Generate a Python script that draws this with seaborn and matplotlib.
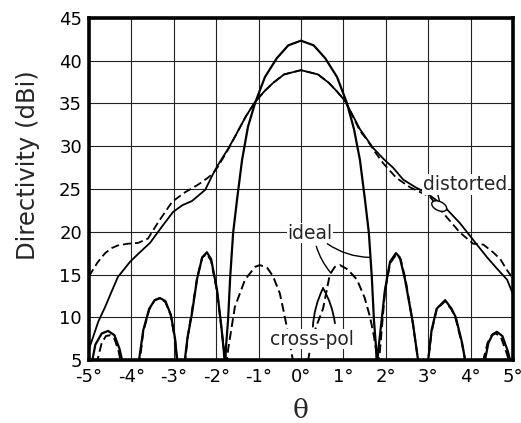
import numpy as np
import pandas as pd
import matplotlib
matplotlib.use("Agg")
import matplotlib.pyplot as plt
import matplotlib.transforms as mtransforms
from matplotlib.patches import Ellipse
import seaborn as sns

# ideal co-pol: narrow main beam + sidelobes (nulls dip below the 5 dBi floor)
ideal_theta = [-5.0, -4.92, -4.85, -4.7, -4.55, -4.4, -4.28, -4.22, -4.02,
               -3.82, -3.72, -3.58, -3.45, -3.33, -3.2, -3.07, -2.97, -2.92, -2.83,
               -2.74, -2.68, -2.57, -2.45, -2.33, -2.22, -2.12, -1.98, -1.88, -1.82, -1.79,
               -1.77, -1.72, -1.67, -1.6, -1.51, -1.39, -1.25, -1.08, -0.85, -0.57, -0.3,
               0.0, 0.3, 0.57, 0.85, 1.08, 1.25, 1.39, 1.51, 1.6, 1.67, 1.72, 1.77,
               1.79, 1.82, 1.98, 2.1, 2.24, 2.33, 2.45, 2.64, 2.76, 2.88,
               3.0, 3.08, 3.2, 3.4, 3.55, 3.65, 3.8, 3.87, 4.1,
               4.34, 4.42, 4.52, 4.62, 4.75, 4.88, 4.93, 5.0]
ideal_db = [0.0, 5.0, 6.8, 8.1, 8.4, 7.9, 6.3, 5.0, 0.0,
            5.0, 8.5, 11.0, 12.0, 12.25, 11.9, 10.3, 7.5, 5.0, 0.0,
            5.0, 7.5, 10.5, 14.5, 17.0, 17.6, 16.8, 13.2, 9.0, 6.0, 4.0,
            6.5, 9.7, 14.7, 19.9, 23.7, 28.4, 32.3, 35.1, 38.1, 40.3, 41.8,
            42.35, 41.8, 40.3, 38.1, 35.1, 32.0, 28.4, 23.7, 19.9, 14.7, 9.7, 6.5,
            4.0, 6.0, 13.2, 16.5, 17.5, 17.0, 14.5, 9.3, 5.0, 0.0,
            5.0, 8.5, 11.0, 12.0, 11.0, 10.0, 7.0, 5.0, 0.0,
            5.0, 7.0, 8.0, 8.3, 7.8, 6.0, 5.0, 0.0]

# dashed pattern: same sidelobes, split lobes around boresight
split_theta = [-5.0, -4.8, -4.7, -4.6, -4.5, -4.4, -4.3, -4.26, -4.02,
               -3.8, -3.72, -3.58, -3.45, -3.33, -3.2, -3.07, -2.97, -2.93, -2.83,
               -2.73, -2.67, -2.57, -2.45, -2.33, -2.22, -2.12, -1.98, -1.88, -1.8, -1.77,
               -1.72, -1.56, -1.32, -1.08, -0.97, -0.8, -0.66, -0.5, -0.4, -0.3, -0.2, 0.0,
               0.17, 0.21, 0.35, 0.52, 0.68, 0.8, 0.92, 1.1, 1.32, 1.5, 1.63, 1.72, 1.79, 1.81,
               1.86, 1.98, 2.1, 2.24, 2.35, 2.47, 2.64, 2.76, 2.88,
               3.0, 3.08, 3.2, 3.4, 3.55, 3.65, 3.8, 3.87, 4.1,
               4.3, 4.4, 4.5, 4.6, 4.72, 4.85, 4.9, 5.0]
split_db = [0.0, 5.0, 7.0, 7.8, 7.9, 7.5, 6.0, 5.0, 0.0,
            5.0, 8.3, 10.9, 12.0, 12.2, 11.8, 10.2, 7.3, 5.0, 0.0,
            5.0, 7.8, 10.8, 14.6, 17.0, 17.4, 16.6, 13.0, 8.8, 5.5, 4.0,
            6.2, 11.2, 14.4, 15.9, 16.1, 15.8, 14.8, 12.8, 10.5, 8.0, 5.2, 0.0,
            5.0, 6.2, 8.8, 11.0, 15.0, 15.9, 16.1, 15.6, 14.4, 12.3, 10.0, 7.8, 5.5, 4.0,
            6.0, 13.0, 16.3, 17.3, 16.8, 14.3, 9.2, 5.0, 0.0,
            5.0, 8.3, 10.9, 11.9, 10.9, 9.8, 6.8, 5.0, 0.0,
            5.0, 7.0, 7.9, 8.1, 7.6, 5.8, 5.0, 0.0]

# distorted co-pol, broad beam (solid and dashed traces)
wide_theta = [-5.0, -4.93, -4.78, -4.62, -4.45, -4.32, -4.03, -3.8, -3.56, -3.28,
              -3.02, -2.8, -2.57, -2.26, -2.08, -1.96, -1.72, -1.56, -1.3, -1.08,
              -0.85, -0.66, -0.4, 0.0, 0.4, 0.66, 0.85, 1.04, 1.2, 1.39,
              1.7, 1.95, 2.17, 2.41, 2.7, 2.97, 3.35, 3.75, 4.1, 4.39, 4.62, 4.86, 5.0]
wide_solid_db = [6.3, 7.3, 9.5, 11.2, 13.2, 14.7, 16.5, 17.6, 18.7, 20.6,
                 22.3, 23.1, 23.6, 24.9, 26.7, 27.8, 29.7, 31.1, 33.5, 35.2,
                 36.5, 37.4, 38.4, 38.9, 38.4, 37.4, 36.4, 35.3, 33.8, 32.0,
                 29.8, 28.5, 27.5, 26.1, 25.2, 24.5, 23.1, 21.0, 18.8, 17.0, 15.7, 14.4, 12.7]

wide_dash_theta = [-5.0, -4.95, -4.8, -4.62, -4.46, -4.32, -4.08, -3.84, -3.61, -3.37,
                   -3.04, -2.74, -2.43, -2.2, -2.08, -1.96, -1.72, -1.56, -1.3, -1.08,
                   -0.85, -0.66, -0.4, 0.0, 0.4, 0.66, 0.85, 1.04, 1.2, 1.39,
                   1.55, 1.75, 1.94, 2.25, 2.57, 3.04, 3.35, 3.75, 4.06, 4.3, 4.53, 4.7, 4.86, 5.0]
wide_dash_db = [14.8, 15.2, 16.4, 17.5, 18.1, 18.4, 18.6, 18.7, 19.2, 21.1,
                23.5, 24.6, 25.5, 26.3, 26.8, 27.6, 29.6, 31.1, 33.5, 35.2,
                36.5, 37.4, 38.4, 38.9, 38.4, 37.4, 36.4, 35.3, 33.7, 31.8,
                30.8, 29.3, 28.0, 26.3, 25.2, 24.1, 22.2, 19.9, 18.6, 18.5, 17.6, 16.8, 15.5, 14.5]

x_ticks = list(range(-5, 6))
x_labels = [f"{t}°" for t in x_ticks]
y_ticks = list(range(5, 50, 5))

sns.set_style("white")
plt.rcParams['font.family'] = ['DejaVu Sans']

fig = plt.figure(figsize=(5.21, 4.23), dpi=100)
ax = fig.add_axes([89 / 521, 1 - 360 / 423, 424 / 521, 342 / 423])

dash = (0, (4.5, 2.2))
sns.lineplot(x=wide_theta, y=wide_solid_db, ax=ax, color='black', lw=1.3,
             sort=False, estimator=None)
sns.lineplot(x=wide_dash_theta, y=wide_dash_db, ax=ax, color='black', lw=1.3,
             linestyle=dash, sort=False, estimator=None)
sns.lineplot(x=ideal_theta, y=ideal_db, ax=ax, color='black', lw=1.6,
             sort=False, estimator=None)
sns.lineplot(x=split_theta, y=split_db, ax=ax, color='black', lw=1.4,
             linestyle=dash, sort=False, estimator=None)

ax.set_xlim(-5, 5)
ax.set_ylim(5, 45)
ax.set_xticks(x_ticks)
ax.set_xticklabels(x_labels)
ax.set_yticks(y_ticks)
ax.grid(True, color='#222222', lw=0.8)
ax.set_axisbelow(True)
ax.tick_params(axis='y', length=0, labelsize=13, pad=5, colors='black')
ax.tick_params(axis='x', length=0, labelsize=13, pad=6, colors='black')
for s in ax.spines.values():
    s.set_linewidth(2.6)
    s.set_color('black')

ax.set_ylabel('Directivity (dBi)', fontsize=17.5)
ax.yaxis.set_label_coords(-0.144, 0.57)
ax.yaxis.label.set_va('center')
ax.set_xlabel('θ', fontsize=19, family='DejaVu Serif')
ax.xaxis.set_label_coords(0.5, -0.149)
ax.xaxis.label.set_va('center')

box = dict(facecolor='white', edgecolor='none', pad=0.5)
ax.text(3.87, 25.5, 'distorted', ha='center', va='center', fontsize=13.5, bbox=box, zorder=5)
ax.text(0.21, 19.85, 'ideal', ha='center', va='center', fontsize=13.5, bbox=box, zorder=5)
ax.text(0.26, 7.45, 'cross-pol', ha='center', va='center', fontsize=13.5, bbox=box, zorder=5)

lead = dict(arrowstyle='-', color='black', lw=1.0, shrinkA=0, shrinkB=0)
ax.annotate('', xy=(1.62, 17.0), xytext=(0.62, 18.6),
            arrowprops=dict(lead, connectionstyle='arc3,rad=0.15'))
ax.annotate('', xy=(0.70, 15.2), xytext=(0.36, 18.3),
            arrowprops=dict(lead, connectionstyle='arc3,rad=0.1'))
ax.annotate('', xy=(0.52, 13.4), xytext=(0.28, 8.9),
            arrowprops=dict(lead, lw=1.3, connectionstyle='arc3,rad=-0.1'))
ax.annotate('', xy=(0.52, 13.4), xytext=(0.80, 9.3),
            arrowprops=dict(lead, lw=1.3, connectionstyle='arc3,rad=0.1'))
ax.annotate('', xy=(3.27, 23.5), xytext=(3.22, 24.5), arrowprops=lead)

trans = fig.dpi_scale_trans + mtransforms.ScaledTranslation(3.26, 23.0, ax.transData)
ax.add_patch(Ellipse((0, 0), 0.16, 0.09, angle=-25, transform=trans,
                     facecolor='white', edgecolor='black', lw=1.0, zorder=6))

fig.savefig('out.png', dpi=100)
